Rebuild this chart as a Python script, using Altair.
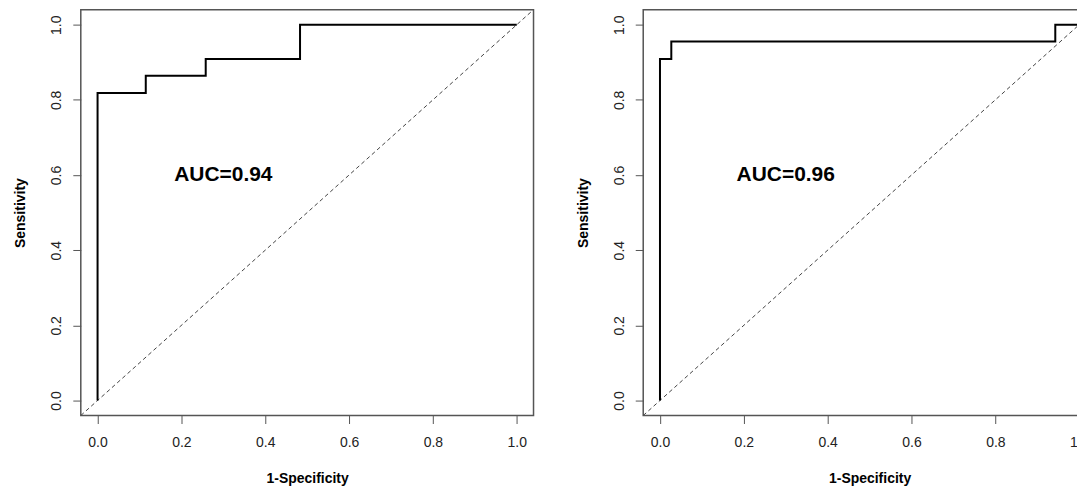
import altair as alt
import pandas as pd

# ROC curve 1 (left)
fpr1 = [0.0, 0.0, 0.115, 0.115, 0.258, 0.258, 0.483, 0.483, 1.0]
tpr1 = [0.0, 0.818, 0.818, 0.864, 0.864, 0.909, 0.909, 1.0, 1.0]
# ROC curve 2 (right)
fpr2 = [0.0, 0.0, 0.027, 0.027, 0.943, 0.943, 1.0]
tpr2 = [0.0, 0.909, 0.909, 0.955, 0.955, 1.0, 1.0]
auc_labels = ["AUC=0.94", "AUC=0.96"]
ticks = [0.0, 0.2, 0.4, 0.6, 0.8, 1.0]
diag = [-0.04, 1.04]

FONT = "Liberation Sans"
FRAME = "#555"


def panel(fpr, tpr, label):
    roc = pd.DataFrame({"x": fpr, "y": tpr, "o": list(range(len(fpr)))})
    dg = pd.DataFrame({"x": diag, "y": diag})
    txt = pd.DataFrame({"x": [0.3], "y": [0.6], "t": [label]})
    xs = alt.Scale(domain=[-0.04, 1.04], nice=False, zero=False)
    ys = alt.Scale(domain=[-0.04, 1.04], nice=False, zero=False)
    xax = alt.Axis(values=ticks, format=".1f", title="1-Specificity",
                   labelPadding=12, titlePadding=22)
    yax = alt.Axis(values=ticks, format=".1f", title="Sensitivity",
                   labelAngle=270, labelAlign="center", labelBaseline="bottom",
                   labelPadding=9, titlePadding=22)
    d = alt.Chart(dg).mark_line(color="#444", strokeWidth=1, strokeDash=[4, 3],
                                clip=True).encode(
        x=alt.X("x:Q", scale=xs, axis=xax),
        y=alt.Y("y:Q", scale=ys, axis=yax),
    )
    r = alt.Chart(roc).mark_line(color="black", strokeWidth=2).encode(
        x=alt.X("x:Q", scale=xs), y=alt.Y("y:Q", scale=ys), order="o:Q")
    t = alt.Chart(txt).mark_text(font=FONT, fontSize=21, fontWeight="bold",
                                 color="black", align="center",
                                 baseline="middle").encode(
        x=alt.X("x:Q", scale=xs), y=alt.Y("y:Q", scale=ys), text="t:N")
    return alt.layer(d, r, t).properties(width=454, height=407)


chart = alt.hconcat(
    panel(fpr1, tpr1, auc_labels[0]),
    panel(fpr2, tpr2, auc_labels[1]),
    spacing=41,
).properties(
    padding={"left": 5, "top": 0, "right": -20, "bottom": 0}
).configure_view(
    stroke=FRAME, strokeWidth=1.5
).configure_axis(
    domain=False, grid=False, tickColor=FRAME, tickSize=8, tickWidth=1,
    labelFont=FONT, labelFontSize=14, labelColor="#222",
    titleFont=FONT, titleFontSize=14, titleFontWeight="bold", titleColor="black"
)

chart.save("out.html", embed_options={"renderer": "svg", "actions": False})
